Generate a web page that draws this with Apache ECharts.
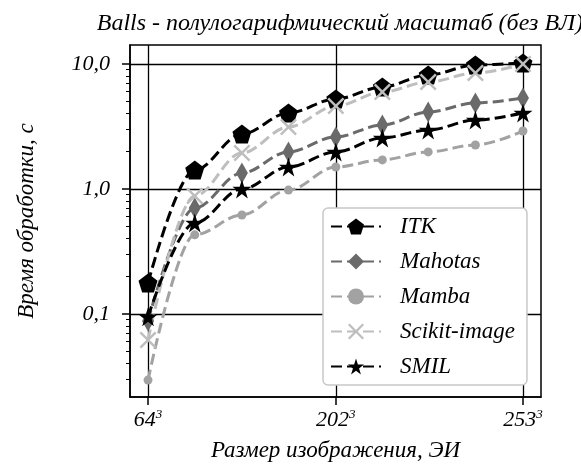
<!DOCTYPE html>
<html>
<head>
<meta charset="utf-8">
<script src="https://cdn.jsdelivr.net/npm/echarts@6/dist/echarts.min.js"></script>
<style>
  html, body { margin: 0; padding: 0; background: #fff; }
  #chart { width: 581px; height: 468px; }
</style>
</head>
<body>
<div id="chart"></div>
<script>
// image side lengths (points are volumes side^3)
const sides = [64, 131, 162, 184, 202, 217, 230, 242, 253];
const itk = [0.177, 1.42, 2.75, 4.06, 5.25, 6.55, 8.17, 9.82, 10.2];
const mahotas = [0.088, 0.705, 1.34, 1.98, 2.61, 3.25, 4.13, 4.88, 5.35];
const mamba = [0.0296, 0.43, 0.62, 0.98, 1.50, 1.71, 1.98, 2.25, 2.91];
const scikit = [0.062, 0.88, 1.94, 3.13, 4.61, 5.97, 7.18, 8.47, 10.0];
const smil = [0.095, 0.535, 1.0, 1.50, 1.98, 2.56, 2.96, 3.56, 4.06];

const xTickSides = [64, 202, 253];
const yTicks = [0.1, 1, 10];
const yMinorTicks = [0.03, 0.04, 0.05, 0.06, 0.07, 0.08, 0.09,
  0.2, 0.3, 0.4, 0.5, 0.6, 0.7, 0.8, 0.9, 2, 3, 4, 5, 6, 7, 8, 9];

const FONT = "'Liberation Serif', 'DejaVu Serif', serif";

const PENTAGON = 'path://M0,-10 L9.511,-3.09 L5.878,8.09 L-5.878,8.09 L-9.511,-3.09 Z';
const STAR = 'path://M0,-10 L2.245,-3.09 L9.511,-3.09 L3.633,1.18 L5.878,8.09 L0,3.82 L-5.878,8.09 L-3.633,1.18 L-9.511,-3.09 L-2.245,-3.09 Z';
const CROSS = 'path://M-8,-6.4 L-6.4,-8 L0,-1.6 L6.4,-8 L8,-6.4 L1.6,0 L8,6.4 L6.4,8 L0,1.6 L-6.4,8 L-8,6.4 L-1.6,0 Z';

const chart = echarts.init(document.getElementById('chart'));

const xTickValues = xTickSides.map(s => s * s * s);

function makeSeries(name, values, color, symbol, size) {
  return {
    name: name,
    type: 'line',
    data: sides.map((s, i) => [s * s * s, values[i]]),
    symbol: symbol,
    symbolSize: size,
    smooth: 0.35,
    smoothMonotone: 'x',
    lineStyle: { color: color, width: 3, type: [11, 5] },
    itemStyle: { color: color },
    emphasis: { disabled: true }
  };
}

chart.setOption({
  animation: false,
  title: {
    text: 'Balls - полулогарифмический масштаб (без ВЛ)',
    left: 335,
    top: 7,
    textAlign: 'center',
    textStyle: { fontFamily: FONT, fontStyle: 'italic', fontWeight: 'normal', fontSize: 24, color: '#000' }
  },
  grid: {
    left: 130, right: 40, top: 45, bottom: 71,
    show: true, borderColor: '#000', borderWidth: 1.5
  },
  legend: {
    orient: 'vertical',
    left: 323,
    top: 208,
    padding: [7, 12, 7, 7],
    itemWidth: 50,
    itemHeight: 20,
    itemGap: 12,
    backgroundColor: '#fff',
    borderColor: '#c8c8c8',
    borderWidth: 1.5,
    borderRadius: 5,
    textStyle: { fontFamily: FONT, fontStyle: 'italic', fontSize: 23, color: '#000', padding: [0, 0, 0, 14] }
  },
  xAxis: {
    type: 'value',
    min: -503612,
    max: 16960033,
    name: 'Размер изображения, ЭИ',
    nameLocation: 'middle',
    nameGap: 42,
    nameTextStyle: { fontFamily: FONT, fontStyle: 'italic', fontSize: 23, color: '#000' },
    axisLine: { onZero: false, lineStyle: { color: '#000', width: 1.5 } },
    axisTick: { customValues: xTickValues, length: 8, lineStyle: { color: '#000', width: 1.5 } },
    axisLabel: {
      customValues: xTickValues,
      margin: 11,
      formatter: v => {
        const i = xTickValues.indexOf(v);
        return '{b|' + xTickSides[i] + '}{s|3}';
      },
      rich: {
        b: { fontFamily: FONT, fontStyle: 'italic', fontSize: 22, color: '#000' },
        s: { fontFamily: FONT, fontStyle: 'italic', fontSize: 13, color: '#000', verticalAlign: 'top', padding: [0, 0, 12, 0] }
      }
    },
    splitLine: { show: true, lineStyle: { color: '#000', width: 1.3 } }
  },
  yAxis: [{
    type: 'log',
    logBase: 10,
    min: 0.02168,
    max: 14.19,
    name: 'Время обработки, с',
    nameLocation: 'middle',
    nameGap: 92,
    nameTextStyle: { fontFamily: FONT, fontStyle: 'italic', fontSize: 23, color: '#000' },
    axisLine: { show: true, onZero: false, lineStyle: { color: '#000', width: 1.5 } },
    axisTick: { customValues: yTicks, length: 8, lineStyle: { color: '#000', width: 1.5 } },
    axisLabel: {
      customValues: yTicks,
      margin: 20,
      fontFamily: FONT, fontStyle: 'italic', fontSize: 22, color: '#000',
      formatter: v => v.toFixed(1).replace('.', ',')
    },
    splitLine: { show: true, lineStyle: { color: '#000', width: 1.3 } }
  }, {
    type: 'log',
    logBase: 10,
    min: 0.02168,
    max: 14.19,
    position: 'left',
    axisLine: { show: false, onZero: false },
    axisTick: { customValues: yMinorTicks, length: 4, lineStyle: { color: '#000', width: 1 } },
    axisLabel: { show: false },
    splitLine: { show: false }
  }],
  series: [
    makeSeries('ITK', itk, '#000000', PENTAGON, 19),
    makeSeries('Mahotas', mahotas, '#6a6a6a', 'diamond', [12, 21]),
    makeSeries('Mamba', mamba, '#a2a2a2', 'circle', 9),
    makeSeries('Scikit-image', scikit, '#bebebe', CROSS, 17),
    makeSeries('SMIL', smil, '#000000', STAR, 19)
  ]
});
</script>
</body>
</html>
